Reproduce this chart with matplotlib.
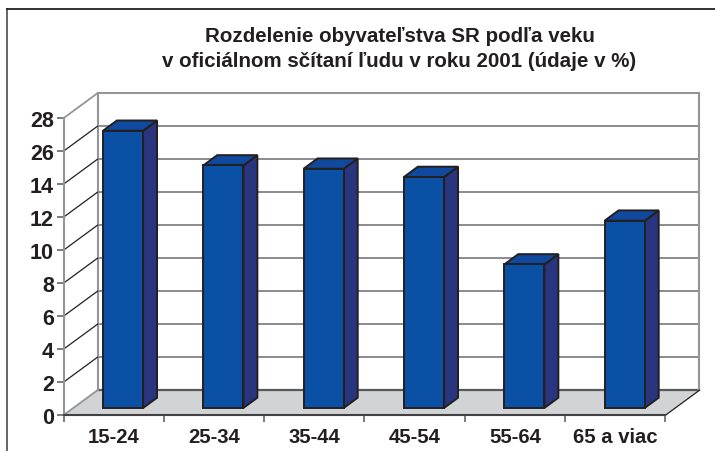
import numpy as np
import matplotlib
matplotlib.use("Agg")
import matplotlib.pyplot as plt
from matplotlib.patches import Polygon

categories = ["15-24", "25-34", "35-44", "45-54", "55-64", "65 a viac"]
values = [26.8, 14.7, 14.5, 14.0, 8.7, 11.35]
tick_values = [0, 2, 4, 6, 8, 10, 12, 14, 26, 28]
# the printed axis jumps from 14 to 26 while the spacing stays even
scale_values = [0, 14, 16, 26, 28]
scale_steps = [0, 7, 8, 8, 9]
title = "Rozdelenie obyvateľstva SR podľa veku\nv oficiálnom sčítaní ľudu v roku 2001 (údaje v %)"

W, H = 715, 452
plt.rcParams["font.family"] = ["Liberation Sans", "DejaVu Sans"]
fig = plt.figure(figsize=(W / 100, H / 100), dpi=100, facecolor="white")

L, R, B, T = 63.5, 665.5, 416.2, 119.2
ax = fig.add_axes([L / W, 1 - B / H, (R - L) / W, (B - T) / H])
ax.set_xlim(0, len(categories))
ax.set_ylim(0, len(tick_values) - 1)
ax.patch.set_alpha(0)
for s in ax.spines.values():
    s.set_visible(False)

ink = "#231f20"
grid = "#77787b"
wall = "#939598"
dx = 34.0 / ((R - L) / len(categories))
dy = 25.0 / ((B - T) / (len(tick_values) - 1))
n = len(categories)
top = len(tick_values) - 1
kw = dict(clip_on=False)

# floor
ax.add_patch(Polygon([(0, 0), (n, 0), (n + dx, dy), (dx, dy)], closed=True,
                     fc="#d1d3d4", ec="none", zorder=1, **kw))
# back wall and grid
for p in range(1, top + 1):
    ax.plot([dx, n + dx], [p + dy, p + dy], color=grid, lw=1.2, zorder=2, **kw)
ax.plot([dx, n + dx], [dy, dy], color="#58595b", lw=1.6, zorder=2, **kw)
ax.plot([dx, n + dx], [top + dy, top + dy], color=wall, lw=1.5, zorder=2, **kw)
ax.plot([dx, dx], [dy, top + dy], color=wall, lw=1.5, zorder=2, **kw)
ax.plot([n + dx, n + dx], [dy, top + dy], color=wall, lw=1.5, zorder=2, **kw)
# side wall
for p in range(0, top + 1):
    ax.plot([0, dx], [p, p + dy], color=wall if p in (0, top) else ink,
            lw=1.3 if p in (0, top) else 0.9, zorder=2, **kw)
ax.plot([0, 0], [0, top], color=wall, lw=1.5, zorder=2, **kw)
ax.plot([n, n + dx], [0, dy], color=ink, lw=0.9, zorder=2, **kw)

# bars
positions = np.interp(values, scale_values, scale_steps)
bw = 0.40
d0, d1 = 0.29, 0.70
for i, v in enumerate(positions):
    x0 = i + 0.5 - bw / 2 + d0 * dx - 0.005
    x1 = x0 + bw
    y0 = d0 * dy
    h = y0 + v
    sx, sy = (d1 - d0) * dx, (d1 - d0) * dy
    style = dict(ec=ink, lw=1.4, joinstyle="miter", zorder=4, **kw)
    ax.add_patch(Polygon([(x1, y0), (x1 + sx, y0 + sy), (x1 + sx, h + sy), (x1, h)],
                         fc="#29357f", **style))
    ax.add_patch(Polygon([(x0, h), (x1, h), (x1 + sx, h + sy), (x0 + sx, h + sy)],
                         fc="#0f4a9e", **style))
    ax.add_patch(Polygon([(x0, y0), (x1, y0), (x1, h), (x0, h)],
                         fc="#0a50a4", **style))

# axes
ax.plot([0, n], [0, 0], color="#414042", lw=1.5, zorder=3, **kw)
ax.set_yticks(np.arange(len(tick_values)))
ax.set_yticklabels([str(v) for v in tick_values], fontsize=15.5, fontweight="bold", color=ink)
ax.set_xticks(np.arange(n + 1))
ax.set_xticklabels([""] * (n + 1))
ax.tick_params(axis="y", length=5, width=1.1, color="#58595b", pad=2)
ax.tick_params(axis="x", length=5, width=1.1, color="#58595b")
for i, c in enumerate(categories):
    ax.annotate(c, (i + 0.5, 0), xytext=(0, -8.5), textcoords="offset points",
                ha="center", va="top", fontsize=14.6, fontweight="bold", color=ink,
                annotation_clip=False)

# title
fig.text(399.5 / W, 1 - 48.8 / H, title, ha="center", va="center", fontsize=14.8,
         fontweight="bold", color=ink, linespacing=1.42)

# outer frame lines
fig.add_artist(plt.Line2D([7 / W, 7 / W], [0, 1 - 10 / H], color="#58595b", lw=1.3))
fig.add_artist(plt.Line2D([7 / W, 1], [1 - 10 / H, 1 - 10 / H], color=ink, lw=1.3))

fig.savefig("out.png", dpi=100, facecolor="white")
